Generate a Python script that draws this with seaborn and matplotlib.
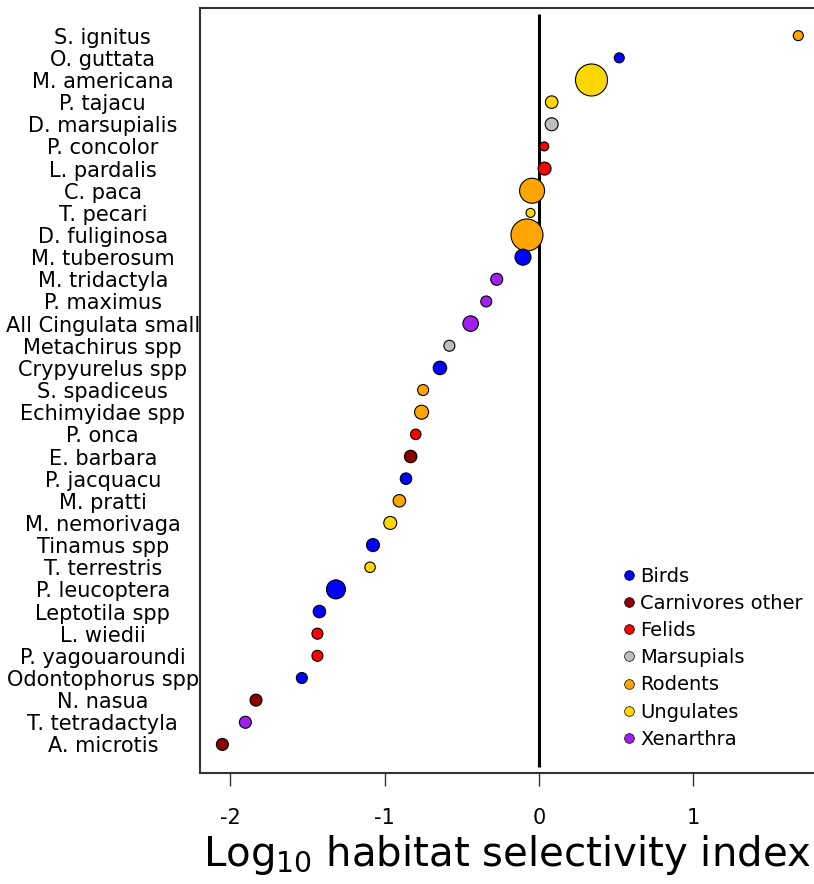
import matplotlib
matplotlib.use("Agg")
import matplotlib.pyplot as plt
from matplotlib.lines import Line2D
import numpy as np
import pandas as pd
import seaborn as sns

species = ["S. ignitus", "O. guttata", "M. americana", "P. tajacu", "D. marsupialis",
           "P. concolor", "L. pardalis", "C. paca", "T. pecari", "D. fuliginosa",
           "M. tuberosum", "M. tridactyla", "P. maximus", "All Cingulata small",
           "Metachirus spp", "Crypyurelus spp", "S. spadiceus", "Echimyidae spp",
           "P. onca", "E. barbara", "P. jacquacu", "M. pratti", "M. nemorivaga",
           "Tinamus spp", "T. terrestris", "P. leucoptera", "Leptotila spp",
           "L. wiedii", "P. yagouaroundi", "Odontophorus spp", "N. nasua",
           "T. tetradactyla", "A. microtis"]
group = ["Rodents", "Birds", "Ungulates", "Ungulates", "Marsupials",
         "Felids", "Felids", "Rodents", "Ungulates", "Rodents",
         "Birds", "Xenarthra", "Xenarthra", "Xenarthra",
         "Marsupials", "Birds", "Rodents", "Rodents",
         "Felids", "Carnivores other", "Birds", "Rodents", "Ungulates",
         "Birds", "Ungulates", "Birds", "Birds",
         "Felids", "Felids", "Birds", "Carnivores other",
         "Xenarthra", "Carnivores other"]
log_index = [1.68, 0.52, 0.34, 0.082, 0.082,
             0.034, 0.036, -0.045, -0.055, -0.078,
             -0.104, -0.274, -0.342, -0.443,
             -0.581, -0.642, -0.751, -0.761,
             -0.799, -0.832, -0.862, -0.905, -0.964,
             -1.076, -1.095, -1.316, -1.423,
             -1.436, -1.436, -1.537, -1.834,
             -1.903, -2.052]
# relative point size (roughly the marker diameter in the original)
rel_size = [10, 10, 32, 12.5, 13,
            9, 13, 25, 9, 32,
            16, 12, 11, 15.5,
            11, 13.5, 11, 14,
            10.5, 12.5, 11.5, 12.5, 13,
            13, 10.5, 19, 12.5,
            11, 11, 11, 12,
            12, 12]

groups = ["Birds", "Carnivores other", "Felids", "Marsupials", "Rodents",
          "Ungulates", "Xenarthra"]
palette = {"Birds": "#0000FF", "Carnivores other": "#8B0000", "Felids": "#FF0000",
           "Marsupials": "#BEBEBE", "Rodents": "#FFA500", "Ungulates": "#FFD700",
           "Xenarthra": "#A020F0"}

df = pd.DataFrame({"species": species, "group": group, "value": log_index,
                   "rel_size": rel_size})
df["pos"] = np.arange(len(df))
df["area"] = (df["rel_size"] * 0.72) ** 2

plt.rcParams["font.family"] = ["DejaVu Sans"]
fig = plt.figure(figsize=(8.14, 8.84), dpi=100)
ax = fig.add_axes([200 / 814, 111 / 884, 614 / 814, 765 / 884])

sns.scatterplot(data=df, x="value", y="pos", hue="group", palette=palette,
                size="area", sizes=(df["area"].min(), df["area"].max()),
                size_norm=(df["area"].min(), df["area"].max()),
                edgecolor="black", linewidth=0.8, legend=False, ax=ax, zorder=3)

ax.vlines(0, -1, 33, color="black", lw=2.2, zorder=2)

ax.set_xlim(-2.197, 1.782)
ax.set_ylim(33.29, -1.25)
ax.set_xticks([-2, -1, 0, 1])
ax.set_xticklabels(["-2", "-1", "0", "1"])
ax.set_yticks(df["pos"])
ax.set_yticklabels(df["species"], ha="center", fontsize=15)
ax.tick_params(axis="y", length=0, pad=70)
ax.tick_params(axis="x", length=9, width=1, color="#333333", pad=16, labelsize=15)
for s in ax.spines.values():
    s.set_color("#333333")
    s.set_linewidth(1.5)
ax.spines["right"].set_visible(False)

ax.set_xlabel("Log$_{10}$ habitat selectivity index", fontsize=29, labelpad=4)
ax.set_ylabel("")

handles = [Line2D([], [], marker="o", ls="", markersize=7, markerfacecolor=palette[g],
                  markeredgecolor="black", markeredgewidth=0.5, label=g) for g in groups]
ax.legend(handles=handles, loc="upper left", bbox_to_anchor=(610 / 814, 1 - 557 / 884),
          bbox_transform=fig.transFigure, frameon=False, fontsize=14,
          handletextpad=0.05, labelspacing=0.42, handlelength=1.0, borderpad=0)

fig.savefig("out.png", dpi=100)
